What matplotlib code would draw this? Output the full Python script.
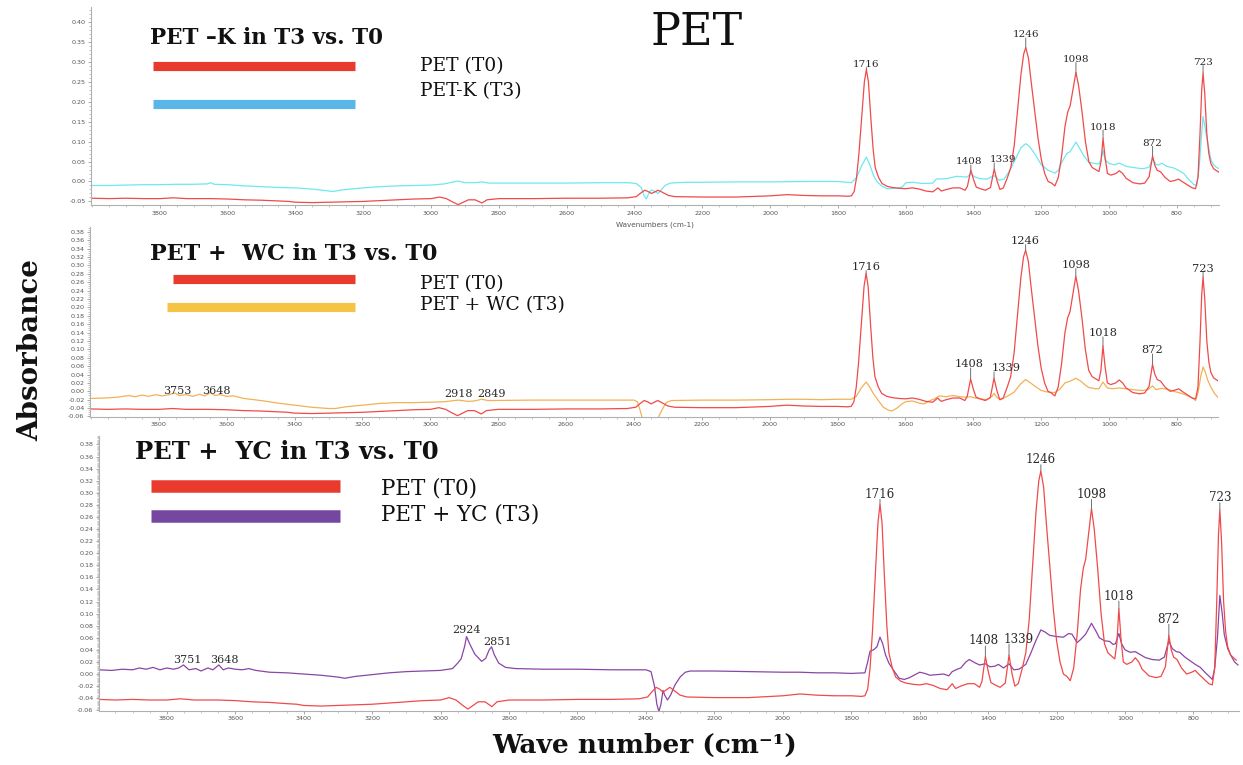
import matplotlib
matplotlib.use("Agg")
import matplotlib.pyplot as plt
from matplotlib.lines import Line2D
from matplotlib.ticker import MultipleLocator, FixedLocator, FormatStrFormatter

plt.rcParams["axes.unicode_minus"] = False

# ---------------------------------------------------------------- spectra
# PET reference film at T0 (shared by all three panels)
pet_t0_wn = [4000, 3950, 3900, 3850, 3800, 3760, 3720, 3650, 3600, 3550, 3500, 3450,
             3420, 3400, 3350, 3300, 3250, 3200, 3150, 3100, 3050, 3000, 2975, 2955,
             2935, 2920, 2905, 2890, 2870, 2850, 2835, 2800, 2700, 2600, 2500, 2420,
             2395, 2380, 2370, 2360, 2350, 2340, 2330, 2318, 2300, 2280, 2200, 2100,
             2000, 1950, 1900, 1850, 1800, 1770, 1760, 1752, 1745, 1738, 1730, 1722,
             1716, 1710, 1703, 1696, 1690, 1680, 1670, 1655, 1640, 1620, 1600, 1580,
             1560, 1540, 1520, 1505, 1495, 1480, 1460, 1440, 1425, 1418, 1408, 1400,
             1392, 1380, 1365, 1350, 1339, 1330, 1322, 1312, 1300, 1290, 1280, 1270,
             1260, 1252, 1246, 1238, 1230, 1220, 1210, 1200, 1190, 1180, 1170, 1160,
             1150, 1140, 1130, 1122, 1115, 1108, 1098, 1090, 1080, 1070, 1060, 1050,
             1040, 1030, 1024, 1018, 1012, 1005, 995, 980, 970, 960, 950, 930, 910,
             895, 882, 872, 865, 858, 848, 835, 820, 805, 795, 785, 770, 755, 745,
             738, 732, 727, 723, 718, 712, 706, 700, 692, 685, 675]
pet_t0_abs = [-0.042, -0.043, -0.042, -0.043, -0.043, -0.041, -0.043, -0.043, -0.044,
              -0.046, -0.047, -0.049, -0.050, -0.052, -0.053, -0.052, -0.051, -0.050,
              -0.048, -0.046, -0.044, -0.043, -0.039, -0.043, -0.052, -0.058, -0.052,
              -0.046, -0.046, -0.054, -0.046, -0.043, -0.043, -0.042, -0.042, -0.041,
              -0.038, -0.028, -0.022, -0.025, -0.030, -0.026, -0.022, -0.027, -0.035,
              -0.038, -0.039, -0.039, -0.036, -0.033, -0.035, -0.036, -0.036, -0.037,
              -0.036, -0.025, 0.010, 0.070, 0.160, 0.250, 0.281, 0.250, 0.160, 0.080,
              0.035, 0.010, -0.005, -0.012, -0.015, -0.017, -0.018, -0.016, -0.019,
              -0.024, -0.026, -0.016, -0.024, -0.020, -0.016, -0.016, -0.022, -0.012,
              0.029, 0.005, -0.014, -0.018, -0.022, -0.015, 0.031, 0.000, -0.020,
              -0.016, 0.010, 0.035, 0.090, 0.180, 0.270, 0.320, 0.336, 0.310, 0.250,
              0.180, 0.110, 0.055, 0.020, 0.000, -0.004, -0.011, 0.010, 0.065, 0.140,
              0.175, 0.190, 0.225, 0.274, 0.240, 0.175, 0.100, 0.050, 0.035, 0.030,
              0.025, 0.050, 0.108, 0.060, 0.020, 0.016, 0.020, 0.027, 0.020, 0.008,
              -0.003, -0.006, -0.004, 0.012, 0.064, 0.040, 0.028, 0.024, 0.010, 0.000,
              0.003, 0.006, 0.000, -0.008, -0.016, -0.018, 0.010, 0.120, 0.230, 0.272,
              0.220, 0.120, 0.070, 0.045, 0.032, 0.028, 0.023]

# PET-K at T3
pet_k_wn = [4000, 3950, 3900, 3850, 3800, 3750, 3700, 3660, 3650, 3640, 3600, 3550,
            3500, 3450, 3400, 3350, 3320, 3290, 3260, 3200, 3150, 3100, 3050, 3000,
            2960, 2940, 2920, 2900, 2870, 2850, 2830, 2700, 2600, 2500, 2420, 2395,
            2380, 2372, 2365, 2358, 2350, 2340, 2330, 2320, 2310, 2295, 2250, 2200,
            2100, 2000, 1900, 1800, 1760, 1745, 1730, 1716, 1705, 1695, 1685, 1670,
            1655, 1630, 1610, 1600, 1580, 1550, 1520, 1510, 1480, 1450, 1420, 1408,
            1395, 1380, 1360, 1339, 1325, 1310, 1295, 1280, 1260, 1246, 1235, 1220,
            1200, 1180, 1160, 1150, 1140, 1125, 1115, 1098, 1085, 1075, 1060, 1040,
            1030, 1024, 1018, 1012, 1000, 985, 970, 950, 920, 900, 882, 872, 862,
            855, 845, 830, 810, 795, 780, 765, 750, 742, 735, 728, 723, 716, 710,
            700, 692, 684, 676]
pet_k_abs = [-0.010, -0.010, -0.009, -0.008, -0.008, -0.007, -0.007, -0.006, -0.003,
             -0.007, -0.008, -0.011, -0.013, -0.015, -0.016, -0.019, -0.022, -0.025,
             -0.021, -0.016, -0.013, -0.011, -0.010, -0.009, -0.006, -0.002, 0.001,
             -0.003, -0.003, -0.001, -0.004, -0.004, -0.004, -0.003, -0.003, -0.005,
             -0.015, -0.035, -0.044, -0.030, -0.021, -0.025, -0.030, -0.020, -0.010,
             -0.004, -0.002, -0.002, -0.001, -0.001, 0.000, 0.000, -0.003, 0.010,
             0.040, 0.061, 0.040, 0.015, 0.000, -0.012, -0.018, -0.017, -0.014, -0.003,
             -0.002, -0.005, -0.004, 0.006, 0.007, 0.013, 0.011, 0.019, 0.011, 0.007,
             0.006, 0.015, 0.003, 0.006, 0.025, 0.050, 0.085, 0.095, 0.088, 0.070,
             0.042, 0.028, 0.021, 0.028, 0.048, 0.070, 0.075, 0.099, 0.080, 0.065,
             0.048, 0.045, 0.044, 0.055, 0.078, 0.055, 0.045, 0.042, 0.046, 0.038,
             0.034, 0.032, 0.036, 0.057, 0.043, 0.041, 0.046, 0.038, 0.034, 0.028,
             0.020, 0.005, -0.008, -0.010, 0.030, 0.110, 0.163, 0.130, 0.100, 0.055,
             0.042, 0.036, 0.032]

# PET + WC at T3
pet_wc_wn = [4000, 3960, 3920, 3890, 3870, 3850, 3830, 3810, 3790, 3770, 3753, 3740,
             3720, 3700, 3680, 3665, 3648, 3635, 3620, 3600, 3580, 3550, 3500, 3450,
             3400, 3350, 3300, 3280, 3250, 3200, 3150, 3100, 3050, 3000, 2960, 2918,
             2890, 2870, 2849, 2830, 2700, 2600, 2500, 2400, 2390, 2382, 2375, 2330,
             2318, 2305, 2290, 2200, 2100, 2000, 1950, 1900, 1850, 1800, 1760, 1745,
             1730, 1716, 1705, 1695, 1680, 1665, 1650, 1640, 1625, 1610, 1600, 1580,
             1560, 1545, 1530, 1515, 1500, 1480, 1460, 1440, 1420, 1408, 1395, 1380,
             1360, 1345, 1339, 1330, 1320, 1300, 1280, 1260, 1246, 1235, 1220, 1200,
             1180, 1160, 1145, 1130, 1115, 1098, 1085, 1070, 1060, 1040, 1030, 1018,
             1005, 990, 970, 950, 920, 900, 885, 872, 862, 845, 830, 810, 790, 770,
             755, 745, 737, 730, 723, 716, 710, 700, 690, 680]
pet_wc_abs = [-0.017, -0.016, -0.014, -0.010, -0.013, -0.009, -0.012, -0.008, -0.011,
              -0.008, -0.004, -0.010, -0.008, -0.012, -0.007, -0.011, -0.003, -0.010,
              -0.008, -0.012, -0.011, -0.017, -0.022, -0.028, -0.033, -0.038, -0.041,
              -0.041, -0.037, -0.033, -0.029, -0.027, -0.027, -0.026, -0.025, -0.021,
              -0.024, -0.023, -0.019, -0.022, -0.021, -0.021, -0.021, -0.021, -0.025,
              -0.045, -0.065, -0.065, -0.045, -0.027, -0.022, -0.021, -0.021, -0.020,
              -0.019, -0.019, -0.020, -0.019, -0.019, -0.012, 0.008, 0.022, 0.010,
              -0.005, -0.022, -0.038, -0.045, -0.047, -0.040, -0.030, -0.025, -0.023,
              -0.028, -0.030, -0.023, -0.018, -0.011, -0.013, -0.010, -0.013, -0.014,
              -0.013, -0.016, -0.018, -0.020, -0.012, -0.005, -0.015, -0.020, -0.012,
              -0.002, 0.018, 0.028, 0.022, 0.013, 0.002, -0.002, -0.003, 0.005, 0.020,
              0.024, 0.031, 0.025, 0.015, 0.009, 0.006, 0.006, 0.022, 0.008, 0.006,
              0.008, 0.006, 0.003, 0.002, 0.004, 0.013, 0.004, 0.007, 0.005, 0.000,
              -0.004, -0.010, -0.016, -0.022, 0.000, 0.035, 0.058, 0.045, 0.028,
              0.010, -0.004, -0.014]

# PET + YC at T3
pet_yc_wn = [4000, 3960, 3930, 3900, 3880, 3860, 3840, 3820, 3800, 3780, 3765, 3751,
             3735, 3715, 3700, 3680, 3665, 3648, 3635, 3620, 3600, 3580, 3560, 3540,
             3500, 3450, 3400, 3350, 3300, 3280, 3250, 3200, 3150, 3100, 3050, 3000,
             2965, 2950, 2940, 2930, 2924, 2915, 2900, 2880, 2868, 2858, 2851, 2843,
             2830, 2810, 2780, 2700, 2600, 2500, 2400, 2385, 2375, 2368, 2362, 2356,
             2350, 2345, 2337, 2328, 2315, 2300, 2285, 2270, 2200, 2100, 2000, 1950,
             1900, 1850, 1800, 1760, 1752, 1745, 1735, 1725, 1716, 1708, 1700, 1690,
             1675, 1660, 1645, 1630, 1610, 1600, 1585, 1570, 1550, 1530, 1515, 1505,
             1490, 1480, 1465, 1455, 1440, 1425, 1408, 1395, 1380, 1370, 1355, 1339,
             1325, 1310, 1290, 1275, 1260, 1246, 1235, 1220, 1200, 1180, 1165, 1155,
             1140, 1130, 1115, 1098, 1085, 1075, 1060, 1045, 1035, 1028, 1018, 1010,
             1000, 985, 970, 955, 940, 920, 900, 885, 872, 862, 850, 840, 825, 805,
             795, 780, 765, 750, 745, 738, 730, 723, 716, 710, 700, 690, 680, 670]
pet_yc_abs = [0.007, 0.006, 0.008, 0.007, 0.010, 0.008, 0.011, 0.007, 0.010, 0.008,
              0.010, 0.015, 0.007, 0.009, 0.005, 0.010, 0.007, 0.015, 0.007, 0.010,
              0.008, 0.007, 0.009, 0.006, 0.003, 0.002, 0.000, -0.002, -0.005, -0.007,
              -0.004, -0.001, 0.002, 0.004, 0.005, 0.006, 0.009, 0.018, 0.025, 0.045,
              0.062, 0.050, 0.033, 0.021, 0.026, 0.040, 0.045, 0.032, 0.018, 0.011,
              0.009, 0.008, 0.008, 0.007, 0.007, 0.004, -0.020, -0.050, -0.062, -0.050,
              -0.027, -0.035, -0.043, -0.035, -0.018, -0.005, 0.003, 0.005, 0.005,
              0.004, 0.003, 0.003, 0.002, 0.002, 0.001, 0.002, 0.020, 0.038, 0.040,
              0.045, 0.061, 0.050, 0.032, 0.018, 0.005, -0.007, -0.009, -0.006, 0.000,
              0.003, 0.001, -0.002, -0.001, 0.000, -0.003, 0.004, 0.008, 0.010, 0.020,
              0.024, 0.019, 0.015, 0.017, 0.012, 0.013, 0.016, 0.010, 0.017, 0.007,
              0.008, 0.016, 0.035, 0.056, 0.073, 0.070, 0.064, 0.062, 0.061, 0.067,
              0.066, 0.052, 0.057, 0.066, 0.084, 0.071, 0.060, 0.055, 0.054, 0.049,
              0.050, 0.067, 0.050, 0.040, 0.036, 0.037, 0.032, 0.027, 0.024, 0.023,
              0.028, 0.055, 0.042, 0.037, 0.036, 0.028, 0.020, 0.016, 0.011, 0.002,
              -0.006, -0.009, 0.010, 0.060, 0.130, 0.100, 0.065, 0.042, 0.030, 0.020,
              0.015]

# Band positions marked on the PET (T0) trace
pet_bands = [1716, 1408, 1339, 1246, 1098, 1018, 872, 723]
wc_bands = [3753, 3648, 2918, 2849]
yc_bands = [3751, 3648, 2924, 2851]

panel_titles = ["PET \u2013K in T3 vs. T0", "PET +  WC in T3 vs. T0", "PET +  YC in T3 vs. T0"]
legend_labels = [["PET (T0)", "PET-K (T3)"],
                 ["PET (T0)", "PET + WC (T3)"],
                 ["PET (T0)", "PET + YC (T3)"]]
x_tick_values = list(range(3800, 799, -200))

# ---------------------------------------------------------------- figure
W, H = 1243, 765
fig = plt.figure(figsize=(W / 100, H / 100), dpi=100)
fig.patch.set_facecolor("white")

SERIF = "DejaVu Serif"
RED_LINE = "#f04a4a"
RED_BAR = "#e83b2e"


def fx(px):
    return px / W


def fy(py):
    return 1 - py / H


def make_axes(left, top, right, bottom):
    return fig.add_axes([fx(left), fy(bottom), (right - left) / W, (bottom - top) / H])


def style_axes(ax, xlim, ylim, yticks, yminor):
    ax.set_xlim(*xlim)
    ax.set_ylim(*ylim)
    ax.xaxis.set_major_locator(FixedLocator(x_tick_values))
    ax.xaxis.set_minor_locator(MultipleLocator(50))
    ax.xaxis.set_major_formatter(FormatStrFormatter("%d"))
    ax.yaxis.set_major_locator(FixedLocator(yticks))
    ax.yaxis.set_minor_locator(MultipleLocator(yminor))
    ax.yaxis.set_major_formatter(FormatStrFormatter("%.2f"))
    for side in ("top", "right"):
        ax.spines[side].set_visible(False)
    for side in ("left", "bottom"):
        ax.spines[side].set_color("#b0b0b0")
        ax.spines[side].set_linewidth(0.8)
    ax.tick_params(which="major", length=2.5, width=0.6, colors="#9a9a9a",
                   labelcolor="#555555", labelsize=4.6, pad=1.5)
    ax.tick_params(which="minor", length=1.5, width=0.5, colors="#b0b0b0")
    ax.set_facecolor("none")


def mark_bands(ax, wn, ab, bands, offsets, size, line=True, dx=None):
    """Label band positions; a short vertical leader runs from the label down to the trace."""
    for b in bands:
        val = ab[wn.index(b)]
        shift = 0 if dx is None else dx.get(b, 0)
        rise = offsets.get(b, 4)
        if line:
            ax.annotate("", xy=(b, val), xytext=(0, rise + 1), textcoords="offset points",
                        arrowprops=dict(arrowstyle="-", color="#707070", lw=0.7,
                                        shrinkA=0, shrinkB=0))
        ax.annotate(str(b), xy=(b, val), xytext=(shift, rise), textcoords="offset points",
                    ha="center", va="bottom", fontsize=size, family=SERIF, color="#2a2a2a")


def legend_bar(x0, x1, y, color, thick):
    fig.add_artist(Line2D([fx(x0), fx(x1)], [fy(y), fy(y)], transform=fig.transFigure,
                          color=color, lw=thick, solid_capstyle="butt"))


def fig_text(x, y, s, size, weight="normal", ha="left", **kw):
    fig.text(fx(x), fy(y), s, fontsize=size, fontweight=weight, ha=ha, va="center",
             family=SERIF, color="#111111", **kw)


y_ticks_top = [-0.05, 0.0, 0.05, 0.10, 0.15, 0.20, 0.25, 0.30, 0.35, 0.40]
y_ticks_low = [round(-0.06 + 0.02 * i, 2) for i in range(23)]

# ---- panel 1 : PET-K
ax1 = make_axes(91, 7, 1219, 205)
style_axes(ax1, (4003, 676), (-0.059, 0.438), y_ticks_top, 0.01)
ax1.plot(pet_k_wn, pet_k_abs, color="#6ee8ef", lw=0.9)
ax1.plot(pet_t0_wn, pet_t0_abs, color=RED_LINE, lw=0.9)
mark_bands(ax1, pet_t0_wn, pet_t0_abs, pet_bands,
           {1716: 0.5, 1408: 2.5, 1339: 3.5, 1246: 6, 1098: 6, 1018: 5, 872: 6, 723: 4.5}, 7.5,
           dx={1408: -1, 1339: 6})
ax1.text(0.5, -0.085, "Wavenumbers (cm-1)", transform=ax1.transAxes, ha="center",
         va="top", fontsize=5.2, color="#555555")

# ---- panel 2 : PET + WC
ax2 = make_axes(90, 226.7, 1218, 416.7)
style_axes(ax2, (4003, 679), (-0.0605, 0.392), y_ticks_low, 0.005)
ax2.plot(pet_wc_wn, pet_wc_abs, color="#f2b155", lw=0.9)
ax2.plot(pet_t0_wn, pet_t0_abs, color=RED_LINE, lw=0.9)
mark_bands(ax2, pet_t0_wn, pet_t0_abs, pet_bands,
           {1716: 1, 1408: 7, 1339: 3.5, 1246: 3, 1098: 4.5, 1018: 5.5, 872: 6.5, 723: 2.5}, 8.2,
           dx={1408: -1, 1339: 9})
mark_bands(ax2, pet_wc_wn, pet_wc_abs, wc_bands,
           {3753: -2, 3648: -2.5, 2918: 1, 2849: 0.5}, 8, line=False,
           dx={3753: 2, 3648: 4, 2918: 0, 2849: 7})

# ---- panel 3 : PET + YC
ax3 = make_axes(99, 436, 1239, 710.7)
style_axes(ax3, (3998, 667), (-0.0607, 0.394), y_ticks_low, 0.002)
ax3.plot(pet_yc_wn, pet_yc_abs, color="#8b45a6", lw=0.9)
ax3.plot(pet_t0_wn, pet_t0_abs, color=RED_LINE, lw=0.9)
mark_bands(ax3, pet_t0_wn, pet_t0_abs, pet_bands,
           {1716: 2.5, 1408: 6.5, 1339: 7, 1246: 3.5, 1098: 5.5, 1018: 4.5, 872: 7, 723: 4}, 8.6,
           dx={1408: -1, 1339: 7})
mark_bands(ax3, pet_yc_wn, pet_yc_abs, yc_bands,
           {3751: 0, 3648: 0, 2924: 1, 2851: 0}, 8, line=False,
           dx={3751: 3, 3648: 4, 2924: 0, 2851: 4})

# ---------------------------------------------------------------- titles & keys
fig_text(697, 32, "PET", 32, ha="center")

fig_text(150, 38, panel_titles[0], 15.5, weight="bold")
legend_bar(153, 355, 65.7, RED_BAR, 6.6)
legend_bar(153, 355, 103.7, "#5ab6e6", 6.6)
fig_text(420, 66, legend_labels[0][0], 13.5)
fig_text(420, 91, legend_labels[0][1], 13.5)

fig_text(150, 254, panel_titles[1], 16, weight="bold")
legend_bar(173, 355, 279.3, RED_BAR, 6.6)
legend_bar(167, 355, 307.3, "#f5c445", 6.6)
fig_text(420, 284, legend_labels[1][0], 13.5)
fig_text(420, 305, legend_labels[1][1], 13.5)

fig_text(135, 452, panel_titles[2], 17.5, weight="bold")
legend_bar(151, 340, 486, RED_BAR, 9)
legend_bar(151, 340, 516, "#7547a0", 9)
fig_text(381, 489, legend_labels[2][0], 15.5)
fig_text(381, 515, legend_labels[2][1], 15.5)

fig_text(31, 350, "Absorbance", 20, weight="bold", ha="center", rotation=90)
fig_text(645, 745, "Wave number (cm\u207b\u00b9)", 19, weight="bold", ha="center")

fig.savefig("out.png", dpi=100, facecolor="white")
